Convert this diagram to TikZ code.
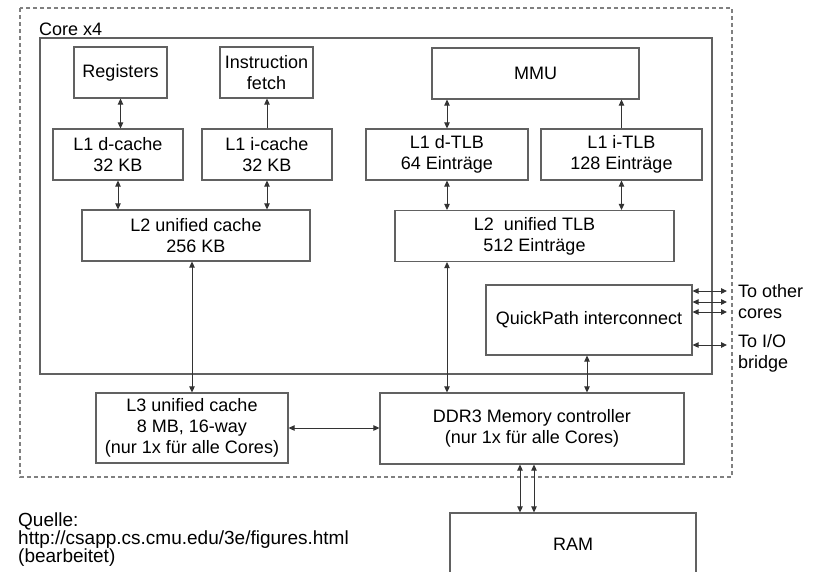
\documentclass[tikz,border=0pt]{standalone}
\usepackage{fontspec}
\setmainfont{Liberation Sans}
\usetikzlibrary{arrows.meta}

\colorlet{frame}{black!62}
\colorlet{outline}{black!50}
\def\boxfont{\fontsize{18}{21}\selectfont}

\begin{document}
\begin{tikzpicture}[x=1pt, y=-1pt,
	>={Triangle[length=6pt,width=5.5pt]}, line join=miter,
	unit/.style={draw=frame, line width=1.2pt, align=center, inner sep=0pt, font=\boxfont},
	link/.style={<->, black!80, line width=1pt},
	uplink/.style={->, black!80, line width=1pt},
	shell/.style={draw=outline, line width=1.2pt, dash pattern=on 4pt off 3pt},
	label/.style={inner sep=0pt, align=left, font=\boxfont}]
	
	\clip (0,0) rectangle (814,571);
	
	% package and core frames
	\draw [shell] (20,8) rectangle (732,477);
	\draw [frame, line width=1.2pt] (40,38) rectangle (712,374);
	\node [label, anchor=base west] (corelbl) at (39,35) {Core x4};
	
	% caches
	\node [unit, minimum width=93pt, minimum height=51pt] (reg) at (120.5,72.5) {Registers};
	\node [unit, minimum width=93pt, minimum height=51pt] (fetch) at (266.5,72.5) {Instruction\\fetch};
	\node [unit, minimum width=130pt, minimum height=51pt] (l1d) at (118,154.5) {L1 d-cache\\32 KB};
	\node [unit, minimum width=130pt, minimum height=51pt] (l1i) at (267,154.5) {L1 i-cache\\32 KB};
	\node [unit, minimum width=228pt, minimum height=51pt] (l2) at (196,235.5) {L2 unified cache\\256 KB};
	
	% translation
	\node [unit, minimum width=207pt, minimum height=51pt] (mmu) at (535.5,73.5) {MMU};
	\node [unit, minimum width=162pt, minimum height=51pt] (dtlb) at (447,154.5) {L1 d-TLB\\64 Einträge};
	\node [unit, minimum width=161pt, minimum height=51pt] (itlb) at (621.5,154.5) {L1 i-TLB\\128 Einträge};
	\node [unit, minimum width=279pt, minimum height=51pt] (l2tlb) at (534.5,236) {L2~ unified TLB\\512 Einträge};
	
	\node [unit, minimum width=206pt, minimum height=70pt] (qpi) at (589,320) {QuickPath interconnect};
	
	% shared parts
	\node [unit, minimum width=192pt, minimum height=70pt] (l3) at (192,428) {L3 unified cache\\8 MB, 16-way\\(nur 1x für alle Cores)};
	\node [unit, minimum width=304pt, minimum height=71pt] (ddr) at (532,428.5) {DDR3 Memory controller\\(nur 1x für alle Cores)};
	\node [unit, minimum width=246pt, minimum height=62pt] (ram) at (573,544) {RAM};
	
	\draw [link] (reg.south) -- (reg.south |- l1d.north);
	\draw [uplink] (l1i.north) -- (l1i.north |- fetch.south);
	\draw [link] (l1d.south) -- (l1d.south |- l2.north);
	\draw [link] (l1i.south) -- (l1i.south |- l2.north);
	\draw [link] (l3.north) -- (l3.north |- l2.south);
	
	\draw [link] (dtlb.north) -- (dtlb.north |- mmu.south);
	\draw [uplink] (itlb.north) -- (itlb.north |- mmu.south);
	\draw [link] (dtlb.south) -- (dtlb.south |- l2tlb.north);
	\draw [link] (itlb.south) -- (itlb.south |- l2tlb.north);
	\draw [link] (dtlb.south |- l2tlb.south) -- (dtlb.south |- ddr.north);
	\draw [link] ([xshift=-2pt]qpi.south) -- ([xshift=-2pt]qpi.south |- ddr.north);
	
	\draw [link] (l3.east) -- (l3.east -| ddr.west);
	\foreach \dx in {-12,2}
	\draw [link] ([xshift=\dx pt]ddr.south) -- ([xshift=\dx pt]ddr.south |- ram.north);
	
	% off-chip links
	\coordinate (ext) at (727,0);
	\foreach \dy in {29,18,8,-25}
	\draw [link] ([yshift=\dy pt]qpi.east) -- ([yshift=\dy pt]qpi.east -| ext);
	\node [label, anchor=west] (cores) at (738,302) {To other\\cores};
	\node [label, anchor=west] (bridge) at (738,353) {To I/O\\bridge};
	
	\node [label, anchor=north west, font=\fontsize{19}{18}\selectfont] (src) at (18,513)
	{Quelle:\\http://csapp.cs.cmu.edu/3e/figures.html\\(bearbeitet)};
	
\end{tikzpicture}
\end{document}
